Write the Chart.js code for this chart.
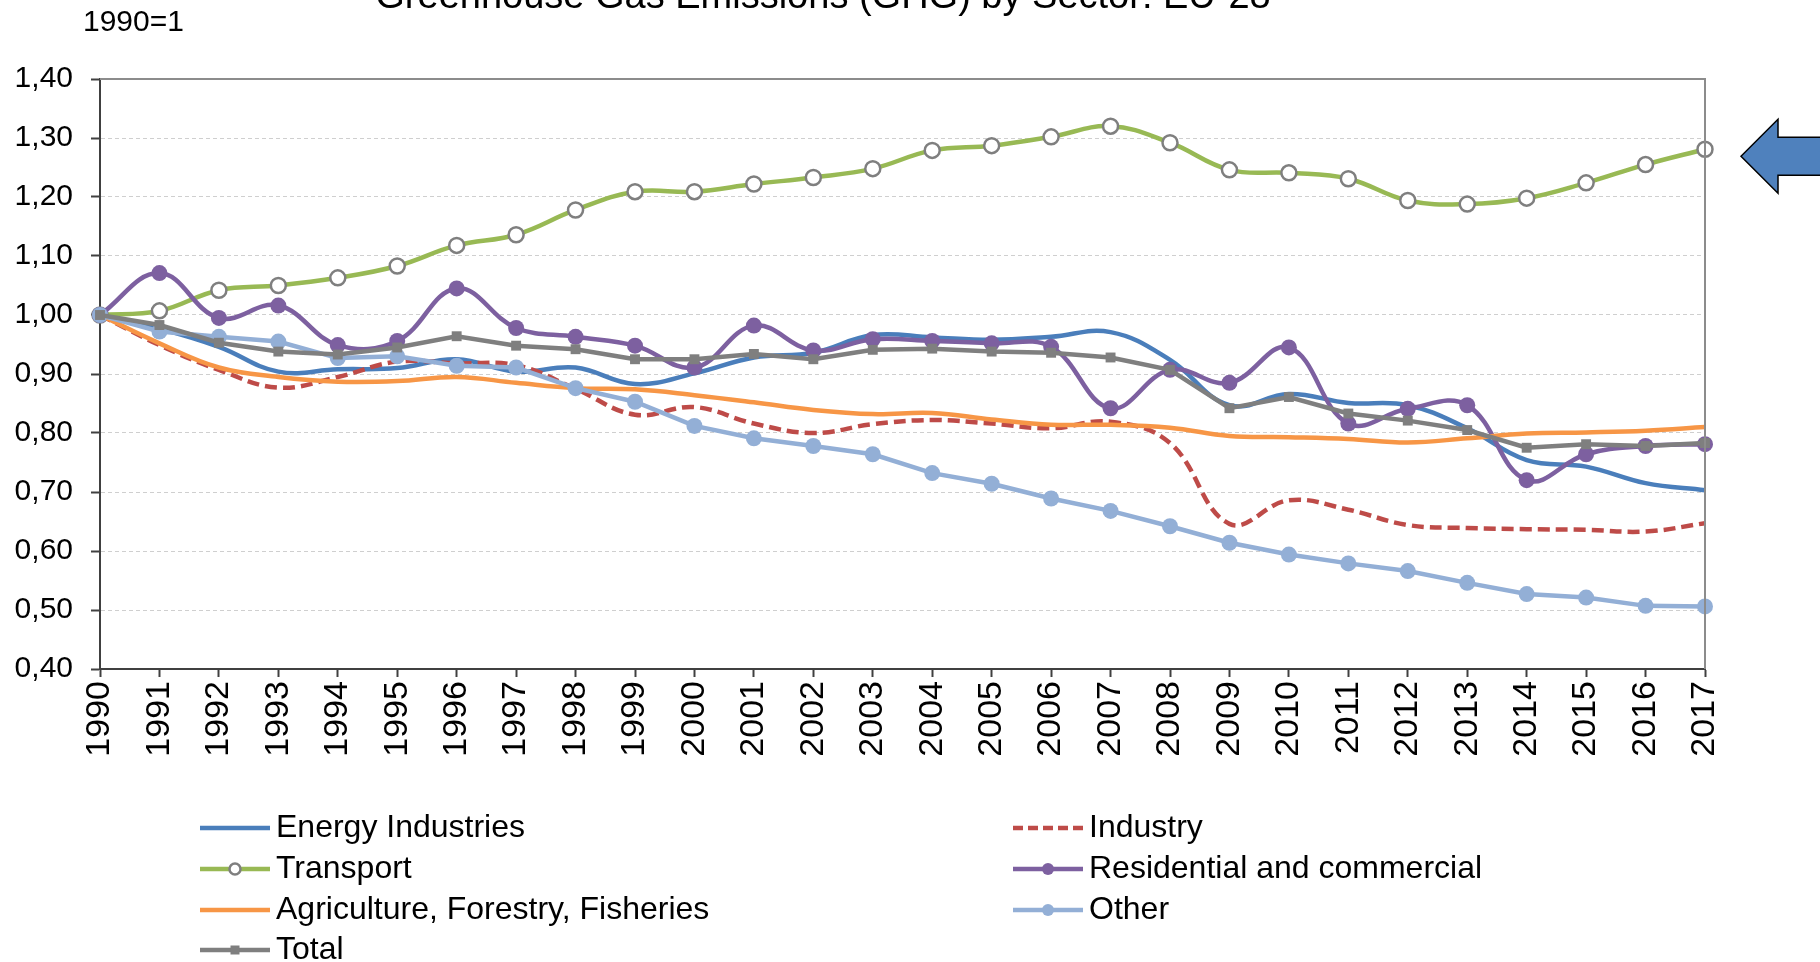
<!DOCTYPE html>
<html>
<head>
<meta charset="utf-8">
<title>Greenhouse Gas Emissions (GHG) by Sector: EU-28</title>
<script src="https://cdn.jsdelivr.net/npm/chart.js@4.4.1/dist/chart.umd.min.js"></script>
<style>
  html, body { margin: 0; padding: 0; background: #fff; }
  #wrap { width: 1820px; height: 962px; position: relative; }
</style>
</head>
<body>
<div id="wrap"><canvas id="ghgChart"></canvas></div>
<script>
// categories
const years = ['1990', '1991', '1992', '1993', '1994', '1995', '1996', '1997', '1998', '1999',
  '2000', '2001', '2002', '2003', '2004', '2005', '2006', '2007', '2008', '2009',
  '2010', '2011', '2012', '2013', '2014', '2015', '2016', '2017'];

// y tick labels (0,40 .. 1,40)
const yTickLabels = ['0,40', '0,50', '0,60', '0,70', '0,80', '0,90', '1,00', '1,10', '1,20', '1,30', '1,40'];

// series values, index 1990 = 1
const energyIndustries = [1.000, 0.977, 0.946, 0.904, 0.908, 0.910, 0.925, 0.904, 0.911, 0.883,
  0.901, 0.928, 0.936, 0.966, 0.962, 0.958, 0.963, 0.971, 0.924, 0.847,
  0.866, 0.851, 0.847, 0.808, 0.754, 0.743, 0.715, 0.703];
const industry = [1.000, 0.949, 0.907, 0.877, 0.895, 0.921, 0.918, 0.915, 0.875, 0.831,
  0.844, 0.816, 0.800, 0.815, 0.822, 0.816, 0.808, 0.819, 0.783, 0.646,
  0.686, 0.670, 0.644, 0.639, 0.637, 0.636, 0.633, 0.647];
const transport = [1.000, 1.007, 1.042, 1.050, 1.063, 1.083, 1.118, 1.136, 1.178, 1.209,
  1.209, 1.222, 1.233, 1.248, 1.279, 1.287, 1.302, 1.320, 1.292, 1.246,
  1.241, 1.231, 1.194, 1.188, 1.198, 1.224, 1.255, 1.281];
const residential = [1.000, 1.071, 0.995, 1.016, 0.949, 0.956, 1.045, 0.978, 0.963, 0.948,
  0.911, 0.982, 0.940, 0.959, 0.956, 0.952, 0.946, 0.842, 0.907, 0.885,
  0.945, 0.816, 0.841, 0.847, 0.720, 0.764, 0.778, 0.781];
const agriculture = [1.000, 0.952, 0.911, 0.895, 0.887, 0.888, 0.895, 0.885, 0.876, 0.874,
  0.864, 0.852, 0.839, 0.832, 0.834, 0.823, 0.814, 0.814, 0.809, 0.795,
  0.793, 0.790, 0.784, 0.791, 0.799, 0.801, 0.804, 0.810];
const other = [1.000, 0.972, 0.963, 0.955, 0.927, 0.930, 0.914, 0.911, 0.876, 0.853,
  0.812, 0.791, 0.778, 0.764, 0.732, 0.714, 0.689, 0.668, 0.642, 0.614,
  0.594, 0.579, 0.566, 0.546, 0.527, 0.521, 0.507, 0.506];
const total = [1.000, 0.983, 0.953, 0.938, 0.933, 0.945, 0.964, 0.948, 0.942, 0.925,
  0.925, 0.934, 0.925, 0.941, 0.943, 0.938, 0.936, 0.928, 0.907, 0.842,
  0.861, 0.833, 0.821, 0.805, 0.775, 0.781, 0.778, 0.783];

const FONT = '"Liberation Sans", Arial, sans-serif';

function series(label, data, color, extra) {
  return Object.assign({
    label, data,
    borderColor: color,
    backgroundColor: color,
    borderWidth: 4.5,
    tension: 0.4,
    pointRadius: 0,
    pointBackgroundColor: color,
    pointBorderColor: color,
    pointBorderWidth: 0,
    clip: 12
  }, extra || {});
}

const datasets = [
  series('Energy Industries', energyIndustries, '#4a7ebb', { order: 7 }),
  series('Industry', industry, '#be4b48', { order: 6, borderDash: [12, 6] }),
  series('Transport', transport, '#98b954', { order: 5, pointRadius: 7.5, pointStyle: 'circle',
    pointBackgroundColor: '#ffffff', pointBorderColor: '#7f7f7f', pointBorderWidth: 2.5 }),
  series('Residential and commercial', residential, '#7d60a0', { order: 4, pointRadius: 8, pointStyle: 'circle' }),
  series('Agriculture, Forestry, Fisheries', agriculture, '#f79646', { order: 3 }),
  series('Other', other, '#93afd6', { order: 2, pointRadius: 8, pointStyle: 'circle', tension: 0 }),
  series('Total', total, '#7f7f7f', { order: 1, pointRadius: 7, pointStyle: 'rect', tension: 0 })
];

// title, subtitle, plot frame, two column legend and the arrow
const decorations = {
  id: 'decorations',
  afterDraw(chart) {
    const ctx = chart.ctx;
    const area = chart.chartArea;
    ctx.save();

    // frame top/right
    ctx.strokeStyle = '#8c8c8c';
    ctx.lineWidth = 2;
    ctx.beginPath();
    ctx.moveTo(area.left, area.top);
    ctx.lineTo(area.right, area.top);
    ctx.lineTo(area.right, area.bottom);
    ctx.stroke();

    // title (cut at the top like the original)
    ctx.fillStyle = '#000';
    ctx.font = '38px ' + FONT;
    ctx.textAlign = 'center';
    ctx.textBaseline = 'alphabetic';
    ctx.fillText('Greenhouse Gas Emissions (GHG) by Sector: EU-28', 823, 8);

    ctx.font = '30px ' + FONT;
    ctx.textAlign = 'left';
    ctx.fillText('1990=1', 83, 31);

    // legend, 2 columns
    const cols = [200, 1013];
    const rows = [828, 869, 910, 950];
    chart.data.datasets.forEach((ds, i) => {
      const x = cols[i % 2];
      const y = rows[Math.floor(i / 2)];
      ctx.save();
      ctx.strokeStyle = ds.borderColor;
      ctx.lineWidth = 4.5;
      ctx.setLineDash(ds.borderDash ? [10, 5] : []);
      ctx.beginPath();
      ctx.moveTo(x, y);
      ctx.lineTo(x + 70, y);
      ctx.stroke();
      ctx.setLineDash([]);
      if (ds.pointRadius > 0) {
        ctx.fillStyle = ds.pointBackgroundColor;
        ctx.strokeStyle = ds.pointBorderColor;
        ctx.lineWidth = ds.pointBorderWidth;
        ctx.beginPath();
        if (ds.pointStyle === 'rect') {
          ctx.rect(x + 35 - 4.5, y - 4.5, 9, 9);
        } else {
          ctx.arc(x + 35, y, ds.pointBorderWidth ? 5.5 : 6, 0, Math.PI * 2);
        }
        ctx.fill();
        if (ds.pointBorderWidth) ctx.stroke();
      }
      ctx.restore();
      ctx.fillStyle = '#000';
      ctx.font = '32px ' + FONT;
      ctx.textAlign = 'left';
      ctx.textBaseline = 'middle';
      ctx.fillText(ds.label, x + 76, y);
    });

    // blue arrow pointing at transport
    const ty = chart.scales.y.getPixelForValue(transport[transport.length - 1]) + 7;
    const tx = area.right + 36;
    ctx.fillStyle = '#4f81bd';
    ctx.strokeStyle = '#000';
    ctx.lineWidth = 1.5;
    ctx.beginPath();
    ctx.moveTo(tx, ty);
    ctx.lineTo(tx + 37, ty - 37);
    ctx.lineTo(tx + 37, ty - 19);
    ctx.lineTo(tx + 80, ty - 19);
    ctx.lineTo(tx + 80, ty + 19);
    ctx.lineTo(tx + 37, ty + 19);
    ctx.lineTo(tx + 37, ty + 37);
    ctx.closePath();
    ctx.fill();
    ctx.stroke();

    ctx.restore();
  }
};

new Chart(document.getElementById('ghgChart'), {
  type: 'line',
  data: { labels: years, datasets },
  plugins: [decorations],
  options: {
    responsive: true,
    maintainAspectRatio: false,
    animation: false,
    layout: { padding: { left: 0, right: 115, top: 79, bottom: 0 } },
    plugins: {
      legend: { display: false },
      title: { display: false },
      tooltip: { enabled: false }
    },
    scales: {
      x: {
        offset: false,
        afterFit: (s) => { s.height = 293; },
        ticks: {
          autoSkip: false, minRotation: 90, maxRotation: 90, padding: 4,
          color: '#000', font: { size: 34, family: FONT }
        },
        grid: { drawOnChartArea: false, tickLength: 8, tickColor: '#404040', tickWidth: 2 },
        border: { color: '#404040', width: 2 }
      },
      y: {
        min: 0.4,
        max: 1.4,
        afterFit: (s) => { s.width = 100; },
        ticks: {
          stepSize: 0.1, padding: 18, color: '#000',
          font: { size: 30, family: FONT },
          callback: (v, i) => yTickLabels[i]
        },
        grid: { color: '#cfcfcf', lineWidth: 1, tickLength: 9, tickColor: '#404040', tickWidth: 2 },
        border: { color: '#404040', width: 2, dash: [4, 3] }
      }
    }
  }
});
</script>
</body>
</html>
